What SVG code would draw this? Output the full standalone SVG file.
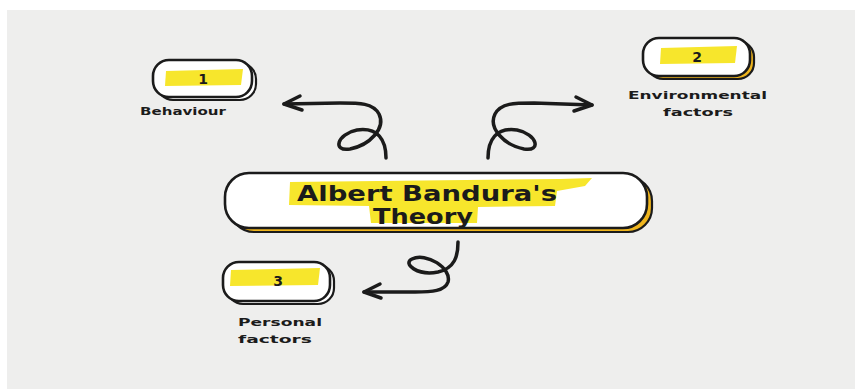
<svg xmlns="http://www.w3.org/2000/svg" width="855" height="389" viewBox="0 0 855 389">
<defs>
<style>
.box{fill:#ffffff;stroke:#1b1b1b;stroke-width:2.6}
.shw{fill:#ffffff;stroke:#1b1b1b;stroke-width:2.2}
.shy{fill:#efb51e;stroke:#1b1b1b;stroke-width:2.2}
.hl{fill:#f7e62c}
.num{font-family:"DejaVu Sans",sans-serif;font-weight:bold;font-size:14px;fill:#1b1b1b;text-anchor:middle}
.lbl{font-family:"DejaVu Sans",sans-serif;font-weight:bold;font-size:11px;fill:#1b1b1b}
.ttl{font-family:"DejaVu Sans",sans-serif;font-weight:bold;font-size:22px;fill:#1b1b1b}
.con{fill:none;stroke:#1b1b1b;stroke-width:3.5;stroke-linecap:round;stroke-linejoin:round}
</style>
</defs>
<rect x="0" y="0" width="855" height="389" fill="#ffffff"/>
<rect x="7" y="10" width="848" height="379" fill="#eeeeed"/>

<g id="connectors">
<path class="con" d="M386,158 C386,140 378,127 357,130 C337,134 332,152 350,149 C370,145 386,128 379,114 C373,103 360,103 340,103 L284,104"/>
<path class="con" d="M284,104 L300,96 M284,104 L302,110"/>
<path class="con" d="M488,158 C488,140 496,127 517,130 C537,134 542,152 524,149 C504,145 488,128 495,114 C501,103 514,103 534,103 L592,105"/>
<path class="con" d="M592,105 L576,97 M592,105 L574,111"/>
<path class="con" d="M458,242 C458,256 455,268 438,272 C418,276 402,264 412,259 C426,252 452,268 448,282 C445,291 432,292 415,292 L364,292"/>
<path class="con" d="M364,292 L380,284 M364,292 L381,298"/>
</g>

<g id="node-1">
<rect class="shw" x="157" y="63" width="99" height="37" rx="16"/>
<rect class="box" x="153" y="60" width="99" height="37" rx="16"/>
<path class="hl" d="M166,71 L243,69 L241,85 L165,86 Z"/>
<text class="num" x="203" y="84">1</text>
<text class="lbl" x="140" y="115" textLength="86" lengthAdjust="spacingAndGlyphs">Behaviour</text>
</g>

<g id="node-2">
<rect class="shy" x="647" y="41" width="107" height="38" rx="16"/>
<rect class="box" x="643" y="38" width="107" height="38" rx="16"/>
<path class="hl" d="M661,48 L737,46 L735,63 L660,64 Z"/>
<text class="num" x="697" y="62">2</text>
<text class="lbl" x="628" y="99" textLength="139" lengthAdjust="spacingAndGlyphs">Environmental</text>
<text class="lbl" x="663" y="116" textLength="70" lengthAdjust="spacingAndGlyphs">factors</text>
</g>

<g id="node-central">
<rect class="shy" x="230" y="177" width="422" height="55" rx="24"/>
<rect class="box" x="225" y="173" width="422" height="55" rx="24"/>
<path class="hl" d="M290,182 L560,179 L592,178 L585,186 L557,191 L555,206 L478,207 L477,223 L371,223 L369,206 L289,205 Z"/>
<text class="ttl" x="297" y="201" textLength="260" lengthAdjust="spacingAndGlyphs">Albert Bandura's</text>
<text class="ttl" x="373" y="224" textLength="100" lengthAdjust="spacingAndGlyphs">Theory</text>
</g>

<g id="node-3">
<rect class="shw" x="227" y="265" width="107" height="39" rx="16"/>
<rect class="box" x="223" y="262" width="107" height="39" rx="16"/>
<path class="hl" d="M231,270 L320,268 L318,285 L230,286 Z"/>
<text class="num" x="278" y="286">3</text>
<text class="lbl" x="238" y="326" textLength="84" lengthAdjust="spacingAndGlyphs">Personal</text>
<text class="lbl" x="238" y="343" textLength="74" lengthAdjust="spacingAndGlyphs">factors</text>
</g>
</svg>
